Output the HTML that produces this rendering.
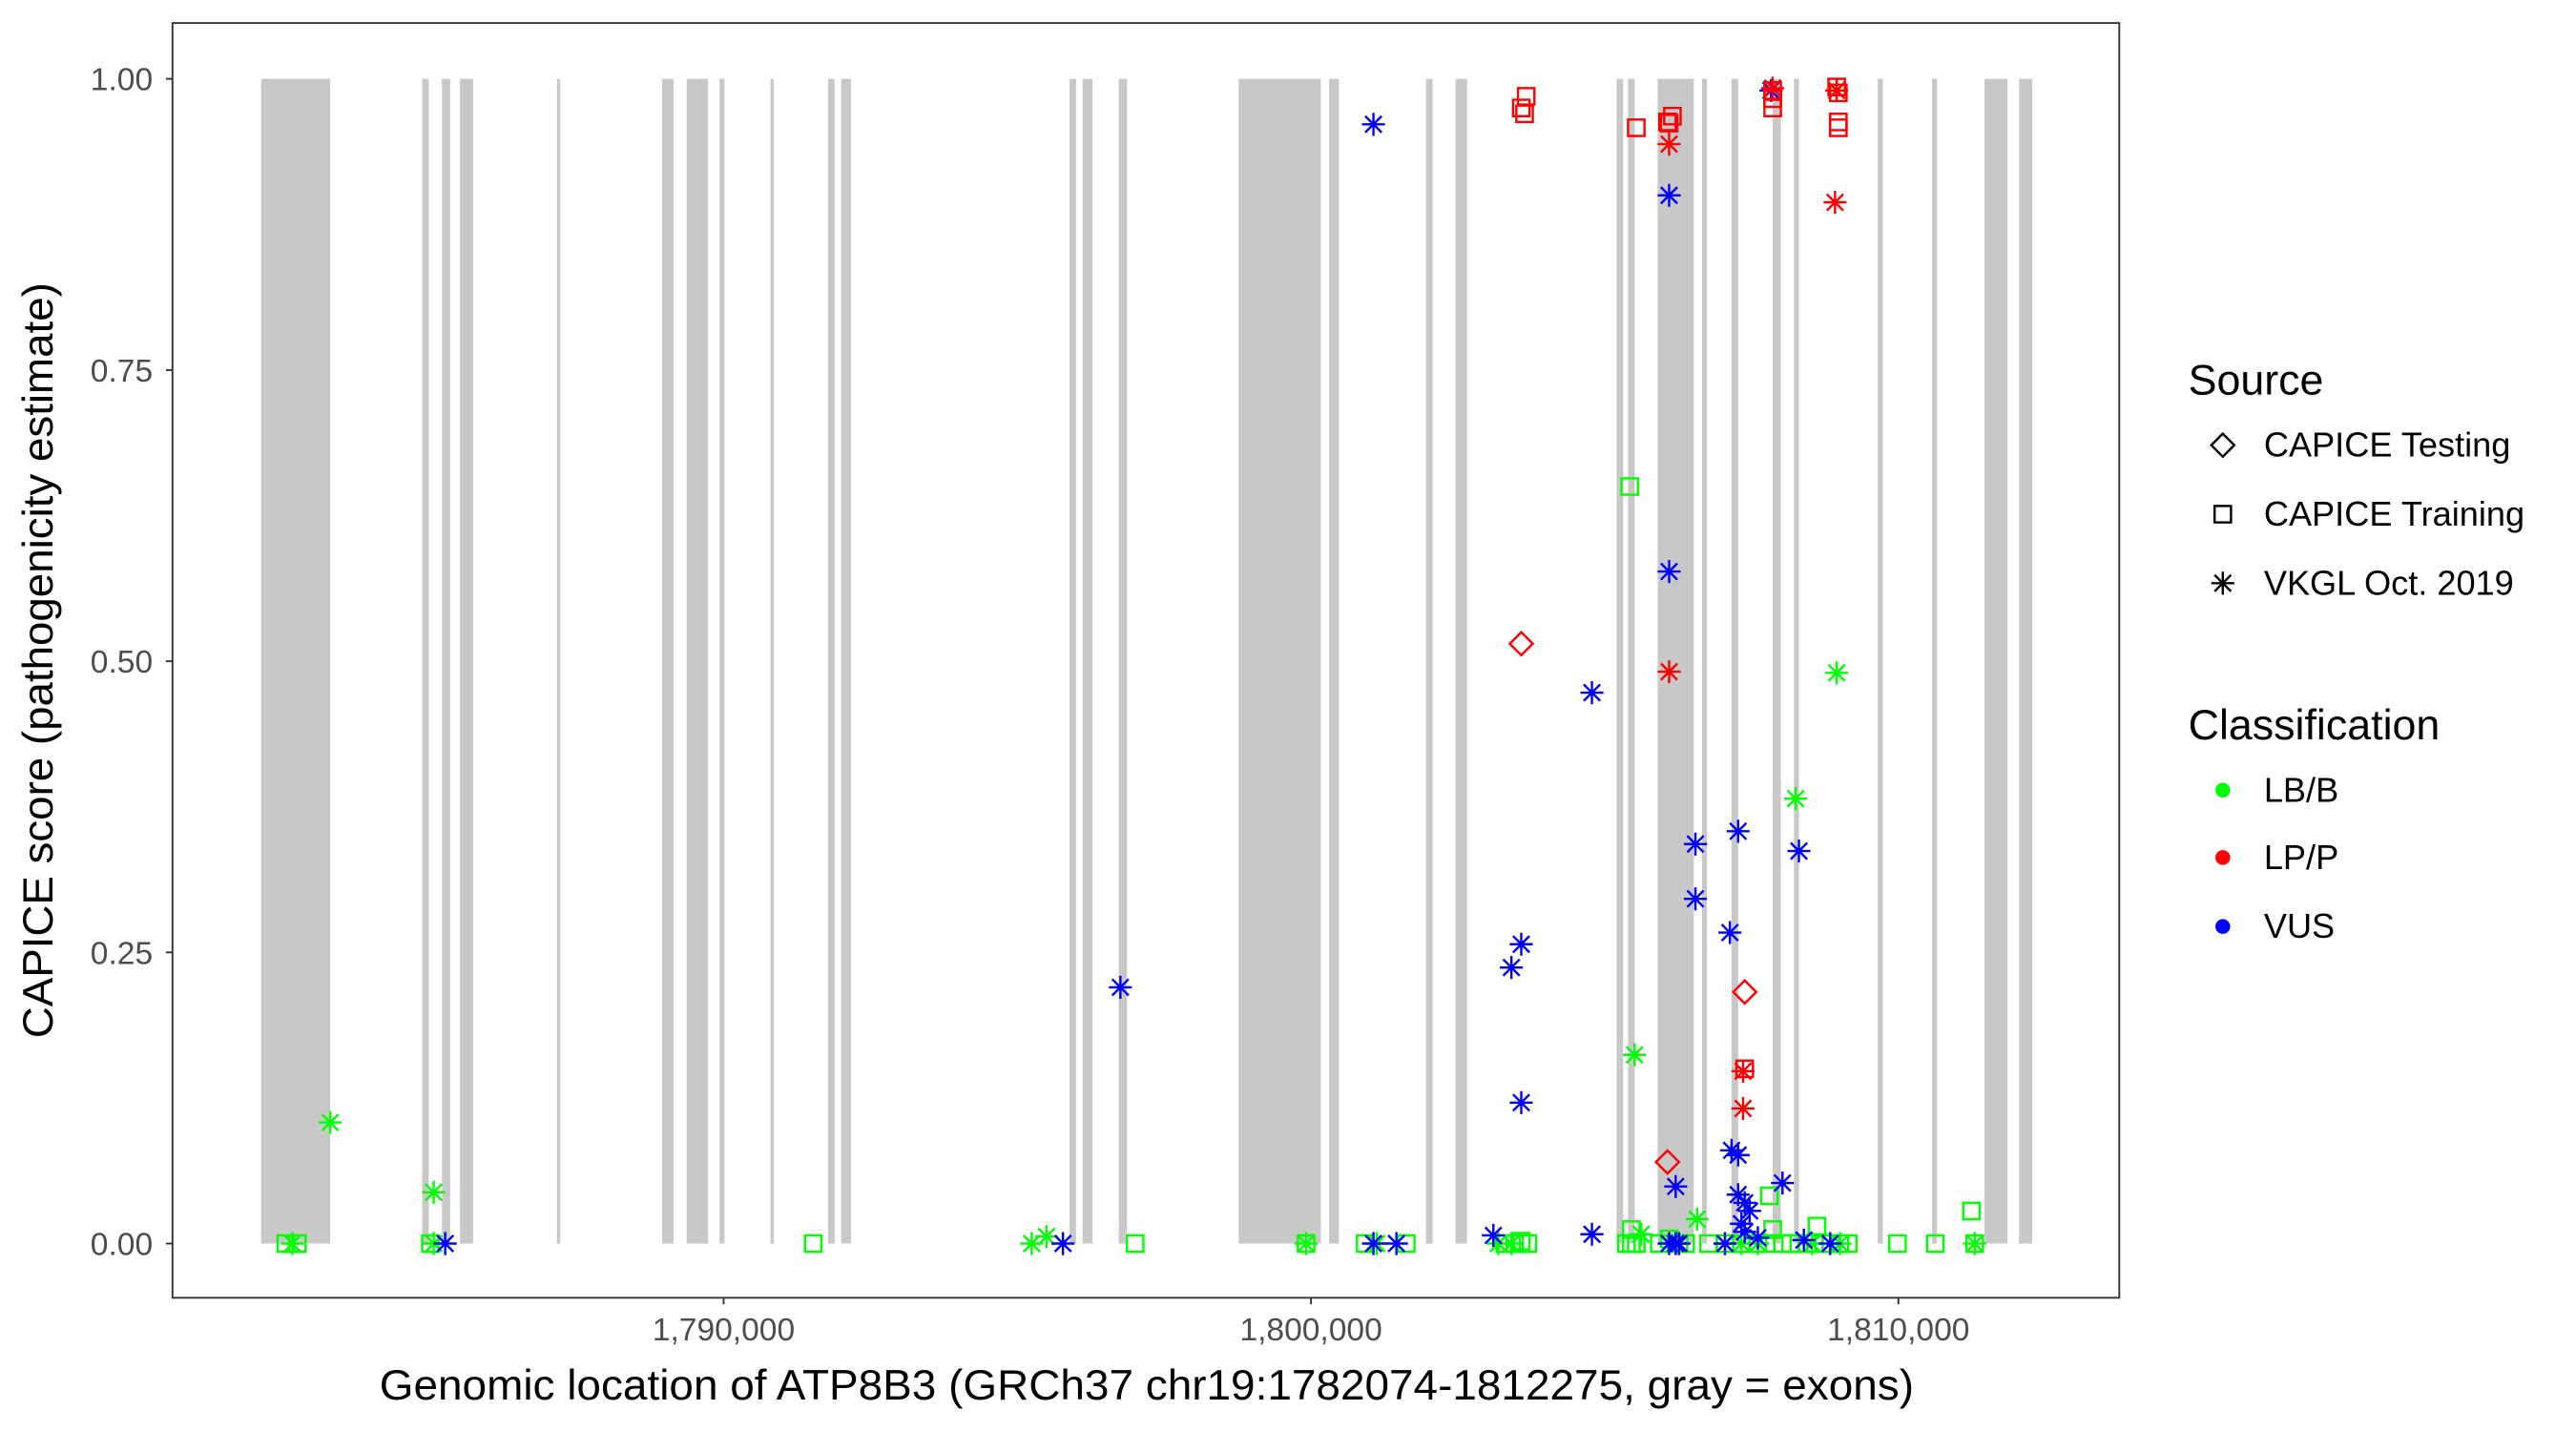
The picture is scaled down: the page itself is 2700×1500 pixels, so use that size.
<!DOCTYPE html>
<html><head><meta charset="utf-8"><style>
html,body{margin:0;padding:0;background:#fff;}
svg{display:block;font-family:"Liberation Sans",Arial,sans-serif;}
</style></head><body>
<svg id="chart" width="2700" height="1500" viewBox="0 0 1568 871.1" xmlns="http://www.w3.org/2000/svg">
<rect x="105" y="14" width="1185" height="776" fill="#fff"/>
<g id="exons"></g>
<g id="points"></g>
<rect x="105" y="14" width="1185" height="776" fill="none" stroke="#333" stroke-width="1.1"/>
<g id="yaxis"></g>
<g id="xaxis"></g>
<text x="698" y="852" font-size="26" text-anchor="middle" textLength="934" lengthAdjust="spacingAndGlyphs" fill="#000">Genomic location of ATP8B3 (GRCh37 chr19:1782074-1812275, gray = exons)</text>
<text transform="translate(32,402) rotate(-90)" font-size="26" text-anchor="middle" textLength="460" lengthAdjust="spacingAndGlyphs" fill="#000">CAPICE score (pathogenicity estimate)</text>
<g>
<text x="1332" y="240" font-size="26">Source</text>
<g>
<path d="M1353 264 L1360 271 L1353 278 L1346 271 Z" fill="none" stroke="#000" stroke-width="1.4"/>
<text x="1378" y="278" font-size="21">CAPICE Testing</text></g>
<g>
<rect x="1348" y="308" width="10" height="10" fill="none" stroke="#000" stroke-width="1.4"/>
<text x="1378" y="320" font-size="21">CAPICE Training</text></g>
<g>
<path d="M1353 348V362M1346 355H1360M1348 350L1358 360M1348 360L1358 350" stroke="#000" stroke-width="1.4"/>
<text x="1378" y="362" font-size="21">VKGL Oct. 2019</text></g>
<text x="1332" y="450" font-size="26">Classification</text>
<g><circle cx="1353" cy="481" r="4.5" fill="#00ff00"/><text x="1378" y="488" font-size="21">LB/B</text></g>
<g><circle cx="1353" cy="522" r="4.5" fill="#ff0000"/><text x="1378" y="529" font-size="21">LP/P</text></g>
<g><circle cx="1353" cy="564" r="4.5" fill="#0000ff"/><text x="1378" y="571" font-size="21">VUS</text></g>
</g>
</svg>
<script>
const exonStarts=[1782127,1784868,1785204,1785512,1787162,1788952,1789371,1789931,1790798,1791777,1792000,1795888,1796112,1796728,1798769,1800308,1801958,1802461,1805202,1805398,1805902,1806657,1807160,1807860,1808223,1809650,1810573,1811468,1812055];
const exonEnds=[1783302,1784980,1785344,1785735,1787218,1789148,1789735,1790015,1790854,1791889,1792168,1796000,1796280,1796867,1800168,1800475,1802070,1802657,1805314,1805510,1806517,1806741,1807272,1807999,1808307,1809734,1810657,1811859,1812279];
const xTicks=[1790000,1800000,1810000];
const xTickLabels=["1,790,000","1,800,000","1,810,000"];
const yTicks=[0,0.25,0.5,0.75,1];
const yTickLabels=["0.00","0.25","0.50","0.75","1.00"];
// source: T=CAPICE Testing, R=CAPICE Training, V=VKGL; class: B=LB/B, P=LP/P, U=VUS
const ptSource=["R","R","R","R","R","R","R","R","R","R","R","R","R","R","R","R","R","R","R","R","R","R","R","R","R","R","R","R","R","R","R","R","R","R","R","R","R","R","R","R","R","R","V","V","V","V","V","V","V","V","V","V","V","V","V","V","V","V","V","V","V","V","V","V","V","V","V","V","V","V","V","V","V","V","V","V","V","V","V","V","V","V","V","V","V","V","V","V","V","V","V","V","V","V","V","V","V","V","V","T","T","T","R","R","R","R","R","R","R","R","R","R","R","R","R","R","R","V","V","V","V","V","V","V"];
const ptClass=["B","B","B","B","B","B","B","B","B","B","B","B","B","B","B","B","B","B","B","B","B","B","B","B","B","B","B","B","B","B","B","B","B","B","B","B","B","B","B","B","B","B","B","B","B","B","B","B","B","B","B","B","B","B","B","B","B","B","B","B","B","B","B","U","U","U","U","U","U","U","U","U","U","U","U","U","U","U","U","U","U","U","U","U","U","U","U","U","U","U","U","U","U","U","U","U","U","U","U","P","P","P","P","P","P","P","P","P","P","P","P","P","P","P","P","P","P","P","P","P","P","P","P","P"];
const ptPos=[1782547,1782743,1785008,1791525,1797007,1799916,1800923,1801622,1803300,1803468,1803692,1805370,1805454,1805930,1806265,1806769,1807468,1807748,1808027,1808167,1808447,1808727,1809146,1809985,1810629,1811300,1805538,1806377,1807048,1807328,1807608,1808306,1808851,1809006,1805426,1811244,1807804,1808615,1807860,1805454,1803580,1806097,1782659,1785064,1795245,1795497,1799916,1801119,1803189,1803412,1807048,1807328,1807608,1808531,1809006,1811300,1805622,1783302,1785064,1805510,1808251,1808950,1806573,1807832,1801063,1806097,1806097,1804783,1796755,1803580,1803412,1803580,1807272,1806545,1808307,1806545,1807132,1806209,1808027,1807160,1807272,1807272,1807384,1807468,1807328,1804783,1803105,1806097,1806209,1808391,1808839,1801063,1801454,1795777,1785260,1807048,1806265,1807384,1807608,1803580,1807384,1806069,1803580,1803636,1803664,1805538,1806097,1806153,1806069,1807860,1807860,1807860,1808950,1808978,1808978,1808978,1807384,1807860,1808950,1806097,1808922,1806097,1807356,1807356,1801063];
const ptScore=[0,0,0,0,0,0,0,0,0,0,0,0,0,0,0,0,0,0,0,0,0,0,0,0,0,0,0,0,0,0,0,0,0,0,0.65,0.028,0.041,0.015,0.012,0.012,0.002,0.004,0,0,0,0.006,0,0,0,0,0,0,0,0,0,0,0.008,0.104,0.044,0.162,0.382,0.49,0.021,0.99,0.961,0.9,0.577,0.473,0.22,0.257,0.237,0.121,0.354,0.343,0.337,0.296,0.267,0.049,0.052,0.08,0.076,0.042,0.035,0.028,0.017,0.008,0.007,0,0,0.003,0,0,0,0,0,0,0,0.01,0.005,0.515,0.216,0.07,0.975,0.97,0.985,0.958,0.962,0.968,0.963,0.99,0.983,0.975,0.993,0.988,0.963,0.958,0.15,0.992,0.99,0.944,0.894,0.491,0.148,0.116,0.003];

const NS="http://www.w3.org/2000/svg";
const X=g=>798+(g-1800000)*0.035753;
const Y=v=>757-v*709;
const colors={B:"#00ff00",P:"#ff0000",U:"#0000ff"};
const exG=document.getElementById('exons');
for(let i=0;i<exonStarts.length;i++){
  const r=document.createElementNS(NS,'rect');
  
  
  const x0=X(exonStarts[i]),x1=X(exonEnds[i]);
  r.setAttribute('x',x0);r.setAttribute('width',Math.max(x1-x0,1.5));
  r.setAttribute('y',Y(1));r.setAttribute('height',Y(0)-Y(1));
  r.setAttribute('fill','#c8c8c8');
  exG.appendChild(r);
}
const pG=document.getElementById('points');
for(let i=0;i<ptPos.length;i++){
  const cx=X(ptPos[i]),cy=Y(ptScore[i]),c=colors[ptClass[i]];
  let el;
  if(ptSource[i]==="R"){
    el=document.createElementNS(NS,'rect');
    el.setAttribute('x',cx-5);el.setAttribute('y',cy-5);el.setAttribute('width',10);el.setAttribute('height',10);
    el.setAttribute('fill','none');
  }else if(ptSource[i]==="T"){
    el=document.createElementNS(NS,'path');
    el.setAttribute('d',`M${cx} ${cy-7}L${cx+7} ${cy}L${cx} ${cy+7}L${cx-7} ${cy}Z`);
    el.setAttribute('fill','none');
  }else{
    el=document.createElementNS(NS,'path');
    const r=7,d=5;
    el.setAttribute('d',`M${cx} ${cy-r}V${cy+r}M${cx-r} ${cy}H${cx+r}M${cx-d} ${cy-d}L${cx+d} ${cy+d}M${cx-d} ${cy+d}L${cx+d} ${cy-d}`);
  }
  el.setAttribute('stroke',c);el.setAttribute('stroke-width','1.4');
  
  
  pG.appendChild(el);
}
const yG=document.getElementById('yaxis');
yTicks.forEach((v,i)=>{
  const l=document.createElementNS(NS,'line');
  l.setAttribute('x1',101);l.setAttribute('x2',105);l.setAttribute('y1',Y(v));l.setAttribute('y2',Y(v));
  l.setAttribute('stroke','#333');l.setAttribute('stroke-width','1.1');
  
  
  yG.appendChild(l);
  const t=document.createElementNS(NS,'text');
  t.setAttribute('x',93);t.setAttribute('y',Y(v)+7);t.setAttribute('text-anchor','end');
  t.setAttribute('font-size','19.5');t.setAttribute('fill','#4d4d4d');
  t.textContent=yTickLabels[i];
  
  
  yG.appendChild(t);
});
const xG=document.getElementById('xaxis');
xTicks.forEach((v,i)=>{
  const l=document.createElementNS(NS,'line');
  l.setAttribute('x1',X(v));l.setAttribute('x2',X(v));l.setAttribute('y1',790);l.setAttribute('y2',794);
  l.setAttribute('stroke','#333');l.setAttribute('stroke-width','1.1');
  
  
  xG.appendChild(l);
  const t=document.createElementNS(NS,'text');
  t.setAttribute('x',X(v));t.setAttribute('y',816);t.setAttribute('text-anchor','middle');
  t.setAttribute('font-size','19.5');t.setAttribute('fill','#4d4d4d');
  t.textContent=xTickLabels[i];
  
  
  xG.appendChild(t);
});
</script>
</body></html>
